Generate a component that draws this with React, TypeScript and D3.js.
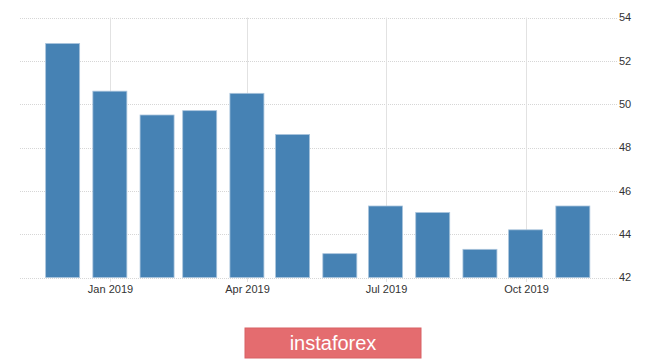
import * as d3 from 'd3';

const months = [
  '2018-12-01', '2019-01-01', '2019-02-01', '2019-03-01', '2019-04-01', '2019-05-01',
  '2019-06-01', '2019-07-01', '2019-08-01', '2019-09-01', '2019-10-01', '2019-11-01',
];
const values = [52.8, 50.6, 49.5, 49.7, 50.5, 48.6, 43.1, 45.3, 45.0, 43.3, 44.2, 45.3];
const yTicks = [42, 44, 46, 48, 50, 52, 54];
const xTicks = ['2019-01-01', '2019-04-01', '2019-07-01', '2019-10-01'];

const W = 665;
const H = 359;
const parse = d3.timeParse('%Y-%m-%d');

export default function App() {
  const x = d3
    .scaleTime()
    .domain([new Date(2018, 10, 3), new Date(2019, 10, 30)])
    .range([20, 617]);
  const y = d3.scaleLinear().domain([42, 54]).range([277.5, 17.5]);
  const barW = 34;
  const fmt = d3.timeFormat('%b %Y');
  const font = '"Liberation Sans", Arial, sans-serif';

  return (
    <div style={{ position: 'absolute', left: 0, top: 0 }}>
      <svg width={W} height={H} style={{ display: 'block', background: '#fff' }}>
        {/* horizontal grid + right axis labels */}
        {yTicks.map((t) => (
          <g key={t}>
            <line
              x1={20}
              x2={617}
              y1={Math.round(y(t)) + 0.5}
              y2={Math.round(y(t)) + 0.5}
              stroke="#d6d6d6"
              strokeDasharray="1,1"
            />
            <text
              x={619}
              y={y(t)}
              dy="0.35em"
              fontFamily={font}
              fontSize={11}
              fill="#333"
            >
              {t}
            </text>
          </g>
        ))}

        {/* vertical grid + bottom labels */}
        {xTicks.map((d) => {
          const px = Math.round(x(parse(d)!)) + 0.5;
          return (
            <g key={d}>
              <line x1={px} x2={px} y1={17.5} y2={282} stroke="#e2e2e2" />
              <text
                x={px}
                y={293}
                textAnchor="middle"
                fontFamily={font}
                fontSize={11}
                fill="#333"
              >
                {fmt(parse(d)!)}
              </text>
            </g>
          );
        })}

        {/* bars */}
        {values.map((v, i) => {
          const cx = x(parse(months[i])!);
          return (
            <rect
              key={months[i]}
              x={cx - barW / 2}
              y={y(v)}
              width={barW}
              height={y(42) - y(v)}
              fill="#4682b4"
              stroke="#a9c4dc"
              strokeWidth={0.8}
            />
          );
        })}

        {/* watermark */}
        <rect x={245} y={328} width={176} height={30} fill="#e46c6f" stroke="#d86164" strokeWidth={1} />
        <text
          x={333}
          y={350}
          textAnchor="middle"
          fontFamily={font}
          fontSize={20}
          fill="#fff"
        >
          instaforex
        </text>
      </svg>
    </div>
  );
}
